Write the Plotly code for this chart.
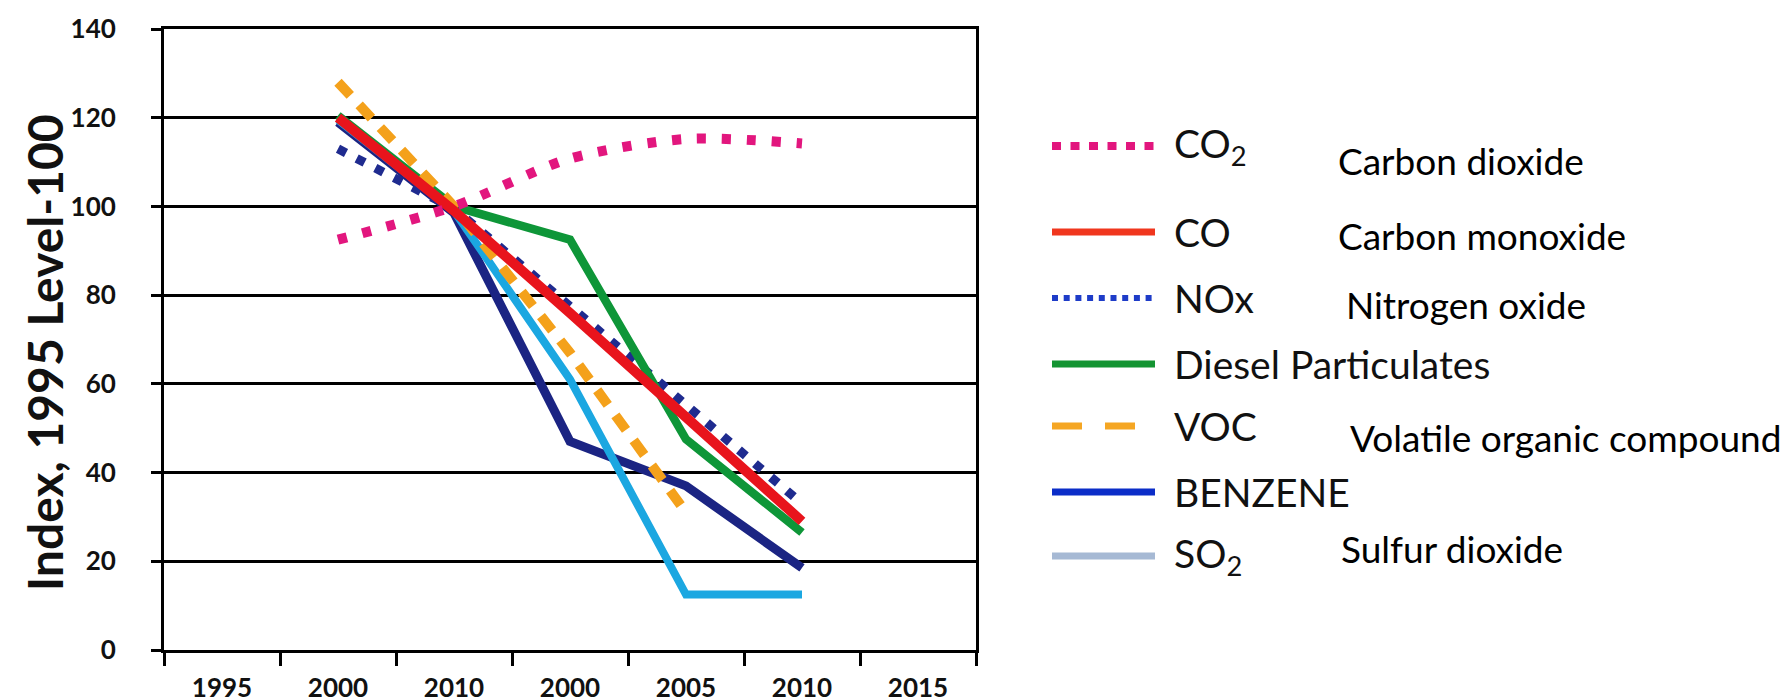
import plotly.graph_objects as go

# ---------------- data ----------------
years = ["1995", "2000", "2010", "2000", "2005", "2010", "2015"]

co2 = [None, 92.5, 100.0, 110.8, 115.2, 114.2, None]
co = [None, 120.0, 99.0, 76.0, 52.5, 29.0, None]
nox = [None, 113.0, 99.5, 77.5, 55.5, 33.0, None]
diesel = [None, 120.5, 100.0, 92.5, 47.5, 26.5, None]
voc = [None, 128.0, 100.0, 67.0, 31.0, None, None]
benzene = [None, 119.0, 98.5, 47.0, 37.0, 18.5, None]
so2 = [None, 119.5, 99.0, 61.0, 12.5, 12.5, None]

legend_labels = ["CO<sub>2</sub>", "CO", "NOx", "Diesel Particulates", "VOC", "BENZENE", "SO<sub>2</sub>"]
descriptions = ["Carbon dioxide", "Carbon monoxide", "Nitrogen oxide", "",
                "Volatile organic compound", "", "Sulfur dioxide"]

y_ticks = [0, 20, 40, 60, 80, 100, 120, 140]
y_title = "Index, 1995 Level-100"

# ---------------- styles ----------------
FONT = "Lato"
W, H = 1789, 700
ML, MR, MT, MB = 156, 3, 21, 58
PW = W - ML - MR
PH = H - MT - MB
plot_right_px = 968
leg_left_px = 1044

x = list(range(len(years)))

# drawing order (bottom -> top)
main_series = [
    (benzene, dict(color="#1B2483", width=9), "linear"),
    (so2, dict(color="#1BA7E1", width=8), "linear"),
    (nox, dict(color="#1F2B8F", width=9, dash="9px,12px"), "linear"),
    (diesel, dict(color="#0E9638", width=8.5), "linear"),
    (voc, dict(color="#F4A11B", width=10, dash="18px,13px"), "linear"),
    (co, dict(color="#E8141C", width=10), "linear"),
    (co2, dict(color="#E2167E", width=10, dash="9px,16px"), "spline"),
]

fig = go.Figure()
for vals, line, shape in main_series:
    fig.add_trace(go.Scatter(
        x=x, y=vals, mode="lines", line=dict(shape=shape, smoothing=0.8, **line),
        connectgaps=False, showlegend=False, hoverinfo="skip",
        xaxis="x", yaxis="y"))

# ---------------- hand-drawn legend (separate axis) ----------------
legend_rows = [138, 224, 290, 356, 418, 484, 548]
legend_lines = [
    dict(color="#E2167E", width=8, dash="9px,9.5px"),
    dict(color="#F0361E", width=7),
    dict(color="#1E3CC8", width=6, dash="6px,5.7px"),
    dict(color="#149432", width=7),
    dict(color="#F5A623", width=7, dash="30px,23px"),
    dict(color="#0B2DC8", width=7),
    dict(color="#A6B9D4", width=7),
]
sample_x = [1044, 1147]
label_x = 1164
desc_rows = [152, 227, 296, None, 429, None, 540]
desc_x = [1328, 1328, 1336, None, 1340, None, 1331]

for row, line in zip(legend_rows, legend_lines):
    fig.add_trace(go.Scatter(
        x=sample_x, y=[row, row], mode="lines", line=line,
        showlegend=False, hoverinfo="skip", xaxis="x2", yaxis="y2"))

annotations = []
for row, lab in zip(legend_rows, legend_labels):
    annotations.append(dict(
        x=label_x, y=row, xref="x2", yref="y2", text=lab, showarrow=False,
        xanchor="left", yanchor="middle",
        font=dict(family=FONT, size=39, color="#111111")))
for row, dx, d in zip(desc_rows, desc_x, descriptions):
    if d:
        annotations.append(dict(
            x=dx, y=row, xref="x2", yref="y2", text=d, showarrow=False,
            xanchor="left", yanchor="middle",
            font=dict(family=FONT, size=37, color="#000000")))

# y-axis title as rotated annotation
annotations.append(dict(
    x=(36 - ML) / PW, y=1 - (345 - MT) / PH, xref="paper", yref="paper",
    text=y_title, textangle=-90, showarrow=False, xanchor="center", yanchor="middle",
    font=dict(family=FONT, size=48, color="#111111", weight="bold")))

tick_font = dict(family=FONT, size=26, color="#111111", weight="bold")

fig.update_layout(
    width=W, height=H,
    margin=dict(l=ML, r=MR, t=MT, b=MB, autoexpand=False),
    paper_bgcolor="white", plot_bgcolor="white",
    showlegend=False,
    annotations=annotations,
    xaxis=dict(
        domain=[0, (plot_right_px - ML) / PW],
        range=[-0.5, len(years) - 0.5],
        tickmode="array", tickvals=x, ticktext=years,
        ticks="", tickfont=tick_font, ticklabelstandoff=13,
        ticklabeloverflow="allow",
        showgrid=False, zeroline=False,
        showline=True, linecolor="black", linewidth=3, mirror=True,
        minor=dict(tickmode="array", tickvals=[i - 0.5 for i in range(len(years) + 1)],
                   ticks="outside", ticklen=13, tickwidth=2.5, tickcolor="black",
                   showgrid=False),
        fixedrange=True,
    ),
    yaxis=dict(
        range=[0, 140], tickmode="array", tickvals=y_ticks,
        ticks="outside", ticklen=10, tickwidth=2.5, tickcolor="black",
        tickfont=tick_font, ticklabelstandoff=30,
        ticklabeloverflow="allow",
        showgrid=True, gridcolor="black", gridwidth=2.5,
        zeroline=False,
        showline=True, linecolor="black", linewidth=3, mirror=True,
        fixedrange=True,
    ),
    xaxis2=dict(domain=[(leg_left_px - ML) / PW, 1], range=[leg_left_px, W - MR],
                visible=False, fixedrange=True, anchor="y2"),
    yaxis2=dict(domain=[0, 1], range=[H - MB, MT], visible=False, fixedrange=True,
                anchor="x2"),
)

fig.write_html("out.html")
